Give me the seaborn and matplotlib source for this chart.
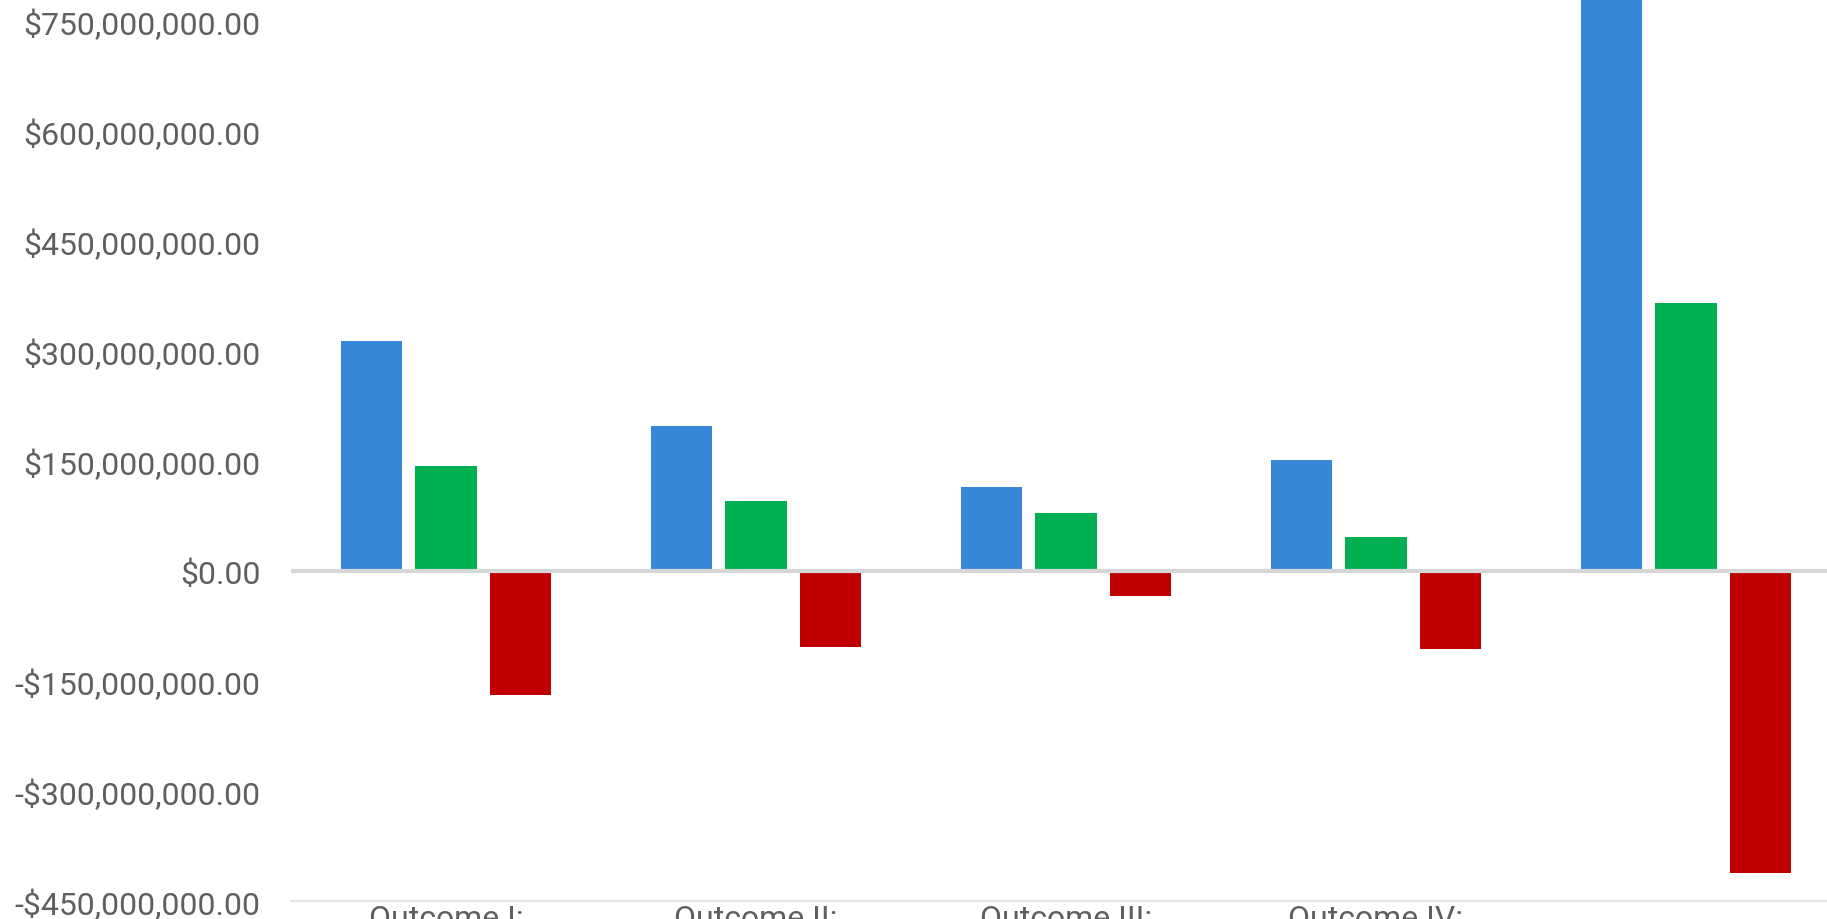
import numpy as np
import pandas as pd
import matplotlib
matplotlib.use("Agg")
import matplotlib.pyplot as plt
from matplotlib.ticker import FuncFormatter, FixedLocator
import seaborn as sns

# values (dollars)
categories = ["Outcome I:", "Outcome II:", "Outcome III:", "Outcome IV:", " "]
series_names = ["Series 1", "Series 2", "Series 3"]
blue_vals = [314e6, 198e6, 115e6, 151e6, 790e6]
green_vals = [143.5e6, 96e6, 78.5e6, 46e6, 366e6]
red_vals = [-169e6, -104e6, -33.5e6, -106.5e6, -412e6]
bar_colors = ["#3888DA", "#00B050", "#C00000"]
ytick_vals = [-450e6, -300e6, -150e6, 0, 150e6, 300e6, 450e6, 600e6, 750e6]

rows = []
for name, vals in zip(series_names, [blue_vals, green_vals, red_vals]):
    for cat, v in zip(categories, vals):
        rows.append({"category": cat, "series": name, "value": v})
df = pd.DataFrame(rows)

sns.set_style("white")
plt.rcParams['font.family'] = ['Roboto', 'DejaVu Sans']

W, H = 1827, 920
fig = plt.figure(figsize=(W / 100, H / 100), dpi=100)
ax = fig.add_axes([291 / W, 18 / H, 1550 / W, 902 / H])

sns.barplot(data=df, x="category", y="value", hue="series", order=categories,
            hue_order=series_names, palette=bar_colors, saturation=1,
            width=0.723, gap=0.183, linewidth=0, legend=False, ax=ax)

ax.set_xlim(-0.5, 4.5)
ax.set_ylim(-450e6, 780e6)
ax.axhline(0, color="#d6d6d6", lw=3, zorder=4)

def money(v, pos):
    s = "${:,.2f}".format(abs(v))
    return "-" + s if v < 0 else s

ax.yaxis.set_major_locator(FixedLocator(ytick_vals))
ax.yaxis.set_major_formatter(FuncFormatter(money))
ax.tick_params(axis="y", length=0, pad=22, labelsize=23, labelcolor="#5f5f5f")

ax.set_xticks(np.arange(len(categories)))
ax.set_xticklabels(categories)
ax.set_xticks(np.arange(-0.5, len(categories)), minor=True)
ax.tick_params(axis="x", which="major", length=0, pad=2, labelsize=23, labelcolor="#5f5f5f")
ax.tick_params(axis="x", which="minor", length=15, width=1.2, color="#e3e3e3")

for side in ["top", "right", "left"]:
    ax.spines[side].set_visible(False)
ax.spines["bottom"].set_color("#e3e3e3")
ax.spines["bottom"].set_linewidth(1.5)

ax.set_xlabel("")
ax.set_ylabel("")

fig.savefig("out.png", dpi=100)
